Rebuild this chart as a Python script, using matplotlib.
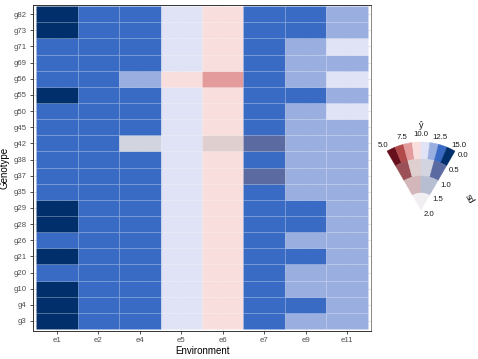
import numpy as np
import matplotlib
matplotlib.use("Agg")
import matplotlib.pyplot as plt
from matplotlib.patches import Rectangle, Wedge

plt.rcParams['font.family'] = ['Liberation Sans', 'DejaVu Sans']

# ---------------- data ----------------
environments = ["e1", "e2", "e4", "e5", "e6", "e7", "e9", "e11"]
# genotypes listed top -> bottom as they appear
genotypes_top = ["g82", "g73", "g71", "g69", "g56", "g55", "g50", "g45", "g42", "g38",
                 "g37", "g35", "g29", "g28", "g26", "g21", "g20", "g10", "g4", "g3"]

yhat_top = [
    [14.6, 13.2, 13.0, 10.5, 9.3, 13.1, 12.9, 11.8],
    [14.4, 13.3, 13.1, 10.6, 9.4, 13.2, 12.8, 11.9],
    [13.6, 13.1, 12.9, 10.4, 9.2, 13.0, 12.2, 11.1],
    [13.5, 13.2, 13.0, 10.5, 9.3, 13.1, 12.3, 11.7],
    [13.4, 12.9, 12.1, 9.8, 8.5, 12.8, 11.9, 11.0],
    [14.2, 13.3, 13.1, 10.7, 9.5, 13.2, 12.7, 11.8],
    [13.3, 13.0, 12.8, 10.4, 9.2, 12.9, 12.1, 11.2],
    [13.5, 13.1, 13.0, 10.5, 9.4, 13.0, 12.2, 11.6],
    [13.4, 13.0, 11.3, 10.3, 9.1, 13.4, 12.0, 11.5],
    [13.6, 13.2, 13.0, 10.6, 9.4, 13.1, 12.3, 11.7],
    [13.5, 13.1, 12.9, 10.5, 9.3, 13.3, 12.2, 11.6],
    [13.4, 13.0, 12.9, 10.4, 9.2, 13.0, 12.1, 11.5],
    [14.3, 13.2, 13.1, 10.6, 9.5, 13.2, 12.7, 11.8],
    [14.5, 13.3, 13.2, 10.7, 9.5, 13.3, 12.8, 11.9],
    [13.7, 13.1, 13.0, 10.5, 9.4, 13.1, 12.3, 11.7],
    [14.1, 13.2, 13.0, 10.6, 9.4, 13.1, 12.6, 11.8],
    [13.6, 13.1, 12.9, 10.5, 9.3, 13.0, 12.2, 11.6],
    [14.0, 13.0, 12.9, 10.4, 9.3, 12.9, 12.4, 11.6],
    [14.4, 13.2, 13.1, 10.6, 9.4, 13.2, 12.6, 11.8],
    [14.7, 13.4, 13.2, 10.7, 9.5, 13.3, 12.4, 11.9],
]

sd_top = [
    [0.21, 0.18, 0.22, 0.25, 0.27, 0.20, 0.31, 0.28],
    [0.23, 0.19, 0.24, 0.26, 0.25, 0.21, 0.30, 0.29],
    [0.20, 0.17, 0.21, 0.24, 0.26, 0.19, 0.33, 0.35],
    [0.22, 0.18, 0.20, 0.23, 0.28, 0.22, 0.32, 0.30],
    [0.30, 0.26, 0.41, 0.38, 0.44, 0.29, 0.36, 0.39],
    [0.24, 0.20, 0.23, 0.25, 0.27, 0.21, 0.31, 0.28],
    [0.21, 0.19, 0.22, 0.24, 0.26, 0.20, 0.34, 0.36],
    [0.20, 0.18, 0.21, 0.25, 0.27, 0.22, 0.33, 0.31],
    [0.35, 0.31, 0.72, 0.46, 0.76, 0.64, 0.42, 0.40],
    [0.22, 0.19, 0.23, 0.26, 0.28, 0.24, 0.33, 0.30],
    [0.28, 0.25, 0.30, 0.33, 0.35, 0.58, 0.38, 0.36],
    [0.21, 0.18, 0.22, 0.25, 0.26, 0.23, 0.32, 0.29],
    [0.23, 0.20, 0.22, 0.24, 0.27, 0.21, 0.30, 0.28],
    [0.24, 0.19, 0.23, 0.25, 0.26, 0.22, 0.31, 0.29],
    [0.20, 0.18, 0.21, 0.24, 0.27, 0.20, 0.33, 0.30],
    [0.22, 0.19, 0.22, 0.25, 0.26, 0.21, 0.31, 0.28],
    [0.21, 0.18, 0.20, 0.24, 0.27, 0.22, 0.32, 0.30],
    [0.23, 0.20, 0.22, 0.25, 0.28, 0.21, 0.34, 0.31],
    [0.22, 0.19, 0.23, 0.24, 0.26, 0.20, 0.30, 0.28],
    [0.24, 0.20, 0.22, 0.25, 0.27, 0.22, 0.33, 0.29],
]

yhat_ticks = [5.0, 7.5, 10.0, 12.5, 15.0]
sd_ticks = [0.0, 0.5, 1.0, 1.5, 2.0]

# ---------------- VSUP palette ----------------
palette = [
    ['#67101d', '#b24a4c', '#e49b9c', '#f9dede', '#dfe3f5', '#9aaee0', '#3a6bc4', '#002f6c'],
    ['#9b4f56', '#e0cfcf', '#d2d4e0', '#5b6aa0'],
    ['#d2b6b9', '#b7bed1'],
    ['#f1eff1'],
]
ymin, ymax = yhat_ticks[0], yhat_ticks[-1]
smax = sd_ticks[-1]
nlev = len(palette)


def vsup_color(v, s):
    lev = min(int(s / (smax / nlev)), nlev - 1)
    nb = len(palette[lev])
    b = int((v - ymin) / (ymax - ymin) * nb)
    b = min(max(b, 0), nb - 1)
    return palette[lev][b]


genotypes = genotypes_top[::-1]
yhat = np.array(yhat_top)[::-1]
sd = np.array(sd_top)[::-1]

W, H = 478, 359
fig = plt.figure(figsize=(W / 100, H / 100), dpi=100)
ax = fig.add_axes([33 / W, (H - 331) / H, (371 - 33) / W, (331 - 5) / H])

for i in range(len(genotypes)):
    for j in range(len(environments)):
        ax.add_patch(Rectangle((j - 0.5, i - 0.5), 1, 1,
                               facecolor=vsup_color(yhat[i, j], sd[i, j]),
                               edgecolor=(1, 1, 1, 0.08), linewidth=0.6, zorder=2))

exp = 0.08
ax.set_xlim(-0.5 - exp, len(environments) - 0.5 + exp)
ax.set_ylim(-0.5 - 0.12, len(genotypes) - 0.5 + 0.07)
ax.set_xticks(range(len(environments)))
ax.set_xticklabels(environments)
ax.set_yticks(range(len(genotypes)))
ax.set_yticklabels(genotypes)
ax.grid(True, color='#d9d9d9', linewidth=0.5, zorder=0)
ax.set_axisbelow(True)
ax.tick_params(axis='both', length=2.5, width=0.6, color='#333333',
               labelsize=5.6, labelcolor='#4d4d4d', pad=2)
for sp in ax.spines.values():
    sp.set_color('#333333')
    sp.set_linewidth(0.7)
ax.spines['right'].set_color('#888888')
ax.set_xlabel('Environment', fontsize=7, labelpad=1)
ax.set_ylabel('Genotype', fontsize=7, labelpad=3)

# ---------------- fan legend ----------------
lx0, lx1, ly0, ly1 = 372, 478, 110, 235  # image pixel box
lax = fig.add_axes([lx0 / W, (H - ly1) / H, (lx1 - lx0) / W, (ly1 - ly0) / H])
lax.set_xlim(lx0, lx1)
lax.set_ylim(H - ly1, H - ly0)
lax.axis('off')

cx, cy = 421, H - 210
R = 68.0
a_left, a_right = 120.0, 60.0
ring = R / nlev
for lev in range(nlev):
    r_out = R - ring * lev
    r_in = r_out - ring
    nb = len(palette[lev])
    for b in range(nb):
        t1 = a_left - (a_left - a_right) * b / nb
        t2 = a_left - (a_left - a_right) * (b + 1) / nb
        lax.add_patch(Wedge((cx, cy), r_out, t2, t1, width=r_out - r_in,
                            facecolor=palette[lev][b], edgecolor=palette[lev][b],
                            linewidth=0.3))

for v in yhat_ticks:
    ang = np.deg2rad(a_left - (a_left - a_right) * (v - ymin) / (ymax - ymin))
    rr = R + 7
    lax.text(cx + rr * np.cos(ang), cy + rr * np.sin(ang), f"{v:.1f}",
             ha='center', va='center', fontsize=5.6, color='#1a1a1a')
lax.text(cx, cy + R + 17, 'ŷ', ha='center', va='center', fontsize=6.5, color='#1a1a1a')

ang_r = np.deg2rad(a_right)
nx, ny = np.cos(ang_r - np.pi / 2), np.sin(ang_r - np.pi / 2)
for s in sd_ticks:
    rr = R * (1 - s / smax)
    off = 9
    lax.text(cx + rr * np.cos(ang_r) + off * nx, cy + rr * np.sin(ang_r) + off * ny,
             f"{s:.1f}", ha='center', va='center', fontsize=5.6, color='#1a1a1a')
lax.text(cx + 34 * np.cos(ang_r) + 36 * nx, cy + 34 * np.sin(ang_r) + 36 * ny, 'sd',
         ha='center', va='center', fontsize=6.5, rotation=-60, color='#1a1a1a')

fig.savefig('out.png', dpi=100)
